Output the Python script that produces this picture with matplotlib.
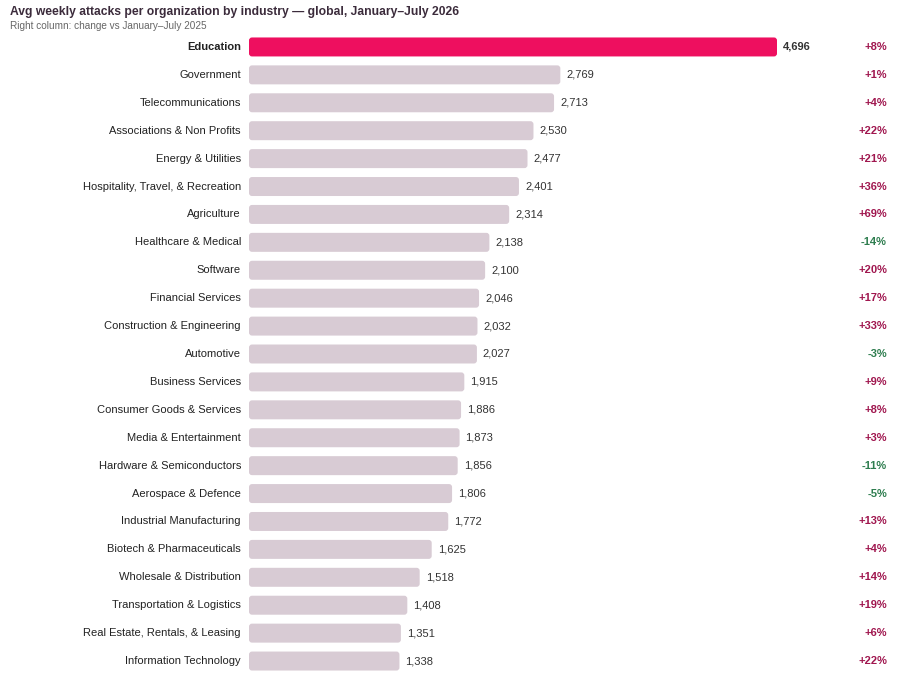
import matplotlib.pyplot as plt
from matplotlib.patches import FancyBboxPatch

plt.rcParams['font.family'] = ['Liberation Sans', 'DejaVu Sans']

industries = ["Education", "Government", "Telecommunications", "Associations & Non Profits",
              "Energy & Utilities", "Hospitality, Travel, & Recreation", "Agriculture",
              "Healthcare & Medical", "Software", "Financial Services",
              "Construction & Engineering", "Automotive", "Business Services",
              "Consumer Goods & Services", "Media & Entertainment",
              "Hardware & Semiconductors", "Aerospace & Defence",
              "Industrial Manufacturing", "Biotech & Pharmaceuticals",
              "Wholesale & Distribution", "Transportation & Logistics",
              "Real Estate, Rentals, & Leasing", "Information Technology"]
attacks = [4696, 2769, 2713, 2530, 2477, 2401, 2314, 2138, 2100, 2046, 2032, 2027,
           1915, 1886, 1873, 1856, 1806, 1772, 1625, 1518, 1408, 1351, 1338]
change = [8, 1, 4, 22, 21, 36, 69, -14, 20, 17, 33, -3, 9, 8, 3, -11, -5, 13, 4, 14, 19, 6, 22]

W, H = 904, 682
fig = plt.figure(figsize=(W / 100, H / 100), dpi=100)
# axes: x from 249px (value 0), rows centred 47..661 px
top_px, bot_px = 47 - 14, 661 + 14
ax = fig.add_axes([249 / W, 1 - bot_px / H, (890 - 249) / W, (bot_px - top_px) / H])
n = len(industries)
scale = (777 - 249) / 4696  # px per unit
ax.set_xlim(0, (890 - 249) / scale)
ax.set_ylim(n - 0.5, -0.5)
row_px = (bot_px - top_px) / n

colors = ["#ee0f5f"] + ["#d8cbd4"] * (n - 1)
bars = ax.barh(range(n), attacks, height=0.68, color=colors, linewidth=0)

# swap the plain bars for slightly rounded ones
r_px = 3
for b in bars:
    x0, y0, w, h = b.get_x(), b.get_y(), b.get_width(), b.get_height()
    fb = FancyBboxPatch((x0, y0), w, h,
                        boxstyle=f"round,pad=0,rounding_size={r_px / scale}",
                        mutation_aspect=(1 / row_px) / (1 / scale),
                        facecolor=b.get_facecolor(), linewidth=0)
    ax.add_patch(fb)
    b.set_visible(False)

for i, (name, v, c) in enumerate(zip(industries, attacks, change)):
    hi = i == 0
    ax.text(v + 6 / scale, i, f"{v:,}", va="center", ha="left", fontsize=8,
            color="#333333", fontweight="bold" if hi else "normal")
    ax.text(-8 / scale, i, name, va="center", ha="right", fontsize=8,
            color="#222222", fontweight="bold" if hi else "normal")
    ax.text((887 - 249) / scale, i, f"{c:+d}%", va="center", ha="right", fontsize=8,
            fontweight="bold", color="#a0174f" if c >= 0 else "#2e7d4f")

ax.axis("off")

fig.text(10 / W, 1 - 12 / H, "Avg weekly attacks per organization by industry \u2014 global, January\u2013July 2026",
         fontsize=8.7, fontweight="bold", color="#3b2b3b", va="center", ha="left")
fig.text(10 / W, 1 - 26 / H, "Right column: change vs January\u2013July 2025",
         fontsize=7.2, color="#666666", va="center", ha="left")

fig.savefig("out.png", dpi=100)
